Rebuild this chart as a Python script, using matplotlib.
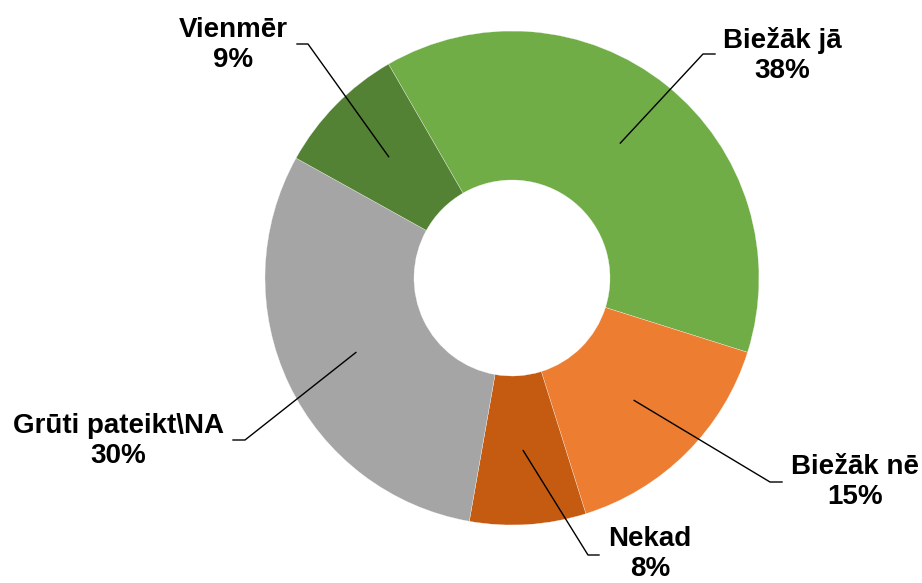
import matplotlib.pyplot as plt
import numpy as np

plt.rcParams["font.family"] = ["Liberation Sans", "DejaVu Sans"]

labels = ["Biežāk jā", "Biežāk nē", "Nekad", "Grūti pateikt\\NA", "Vienmēr"]
values = [38.2, 15.3, 7.6, 30.3, 8.6]
colors = ["#70AD47", "#ED7D31", "#C55A11", "#A5A5A5", "#548235"]

W, H = 922, 583
fig = plt.figure(figsize=(W / 100, H / 100), dpi=100)
ax = fig.add_axes([0, 0, 1, 1])
ax.set_xlim(0, W)
ax.set_ylim(0, H)
ax.axis("off")

cx, cy = 512, H - 278
R = 247
hole = 98

wedges, _ = ax.pie(values, colors=colors, startangle=120, counterclock=False,
                   center=(cx, cy), radius=R,
                   wedgeprops=dict(width=R - hole, edgecolor="white", linewidth=0.2))
ax.set_xlim(0, W)
ax.set_ylim(0, H)
ax.set_aspect("auto")

# label placement (pixel coords, y from top): text centre, elbow, line end
label_pos = [(782, 55), (855, 482), (650, 554), (118, 441), (233, 45)]
elbows = [(703, 54), (770, 482), (588, 555), (245, 440), (308, 44)]
ends = [(715, 54), (782, 482), (599, 555), (233, 440), (297, 44)]

for w, lab, v, tp, el, en in zip(wedges, labels, values, label_pos, elbows, ends):
    mid = np.deg2rad((w.theta1 + w.theta2) / 2)
    sx = cx + 173 * np.cos(mid)
    sy = cy + 173 * np.sin(mid)
    ax.plot([sx, el[0], en[0]], [sy, H - el[1], H - en[1]], color="black", lw=1)
    ax.text(tp[0], H - tp[1], f"{lab}\n{v:.0f}%", ha="center", va="center",
            fontsize=20, fontweight="bold", linespacing=1.2)

plt.savefig("out.png", dpi=100)
